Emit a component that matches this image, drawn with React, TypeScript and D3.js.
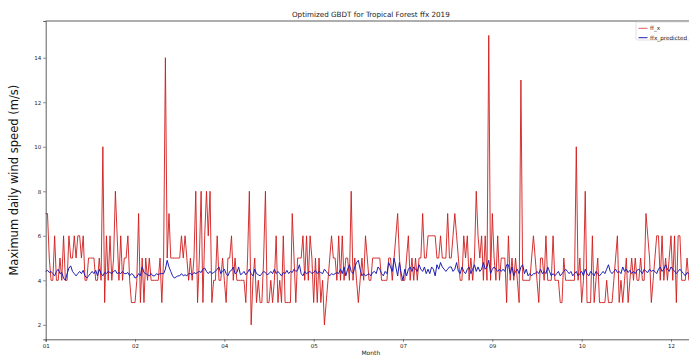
import React, { useEffect, useRef } from "react";
import * as d3 from "d3";

// daily max wind speed, observed (ff_x), Jan 1 .. Dec 31 2019
const observed = [
  7, 7, 5, 4, 4, 6, 4, 4, 5, 4,
  6, 4, 4, 6, 5, 5, 6, 5, 6, 6,
  5, 6, 4, 4, 5, 5, 5, 5, 4, 4,
  5, 4, 10, 3, 6, 4, 6, 4, 5, 8,
  6, 4, 6, 4, 5, 5, 6, 4, 3, 3,
  3, 4, 7, 3, 5, 3, 5, 4, 5, 4,
  4, 4, 4, 4, 5, 3, 5, 14, 5, 7,
  5, 5, 5, 5, 5, 5, 6, 5, 6, 5,
  4, 5, 4, 5, 8, 3, 5, 8, 3, 6,
  8, 6, 8, 3, 4, 4, 6, 4, 4, 5,
  4, 3, 5, 5, 6, 4, 5, 4, 4, 4,
  4, 4, 3, 5, 8, 2, 4, 5, 3, 4,
  3, 3, 5, 8, 3, 3, 4, 3, 4, 6,
  3, 4, 3, 6, 3, 3, 3, 3, 7, 5,
  3, 5, 5, 5, 6, 4, 6, 4, 6, 5,
  3, 5, 3, 5, 3, 4, 2, 3, 4, 5,
  6, 5, 5, 4, 6, 4, 6, 4, 5, 5,
  4, 8, 4, 5, 4, 3, 4, 5, 4, 6,
  5, 4, 4, 5, 5, 5, 5, 5, 4, 4,
  4, 4, 5, 5, 4, 5, 6, 7, 5, 4,
  4, 4, 5, 6, 4, 5, 4, 5, 4, 5,
  5, 7, 5, 5, 6, 6, 6, 6, 6, 5,
  5, 6, 5, 5, 5, 7, 5, 5, 6, 7,
  6, 5, 4, 4, 6, 5, 6, 4, 5, 4,
  5, 8, 6, 5, 6, 4, 6, 4, 15, 4,
  7, 5, 4, 6, 4, 5, 5, 5, 3, 6,
  4, 5, 4, 5, 4, 3, 13, 4, 4, 4,
  4, 4, 5, 6, 5, 4, 3, 5, 5, 4,
  6, 4, 4, 4, 6, 4, 4, 4, 3, 3,
  5, 4, 4, 4, 4, 4, 4, 10, 4, 5,
  3, 4, 8, 3, 3, 3, 6, 3, 4, 5,
  3, 3, 3, 3, 4, 3, 3, 3, 4, 5,
  6, 3, 4, 3, 4, 5, 3, 4, 5, 4,
  5, 4, 4, 5, 4, 4, 7, 6, 5, 3,
  4, 5, 6, 6, 4, 6, 4, 5, 4, 5,
  6, 4, 6, 3, 6, 6, 4, 4, 4, 5,
  4, 4, 4, 4, 4,
];

// model output (ffx_predicted)
const predicted = [
  4.4, 4.45, 4.35, 4.4, 4.3, 4.2, 4.4, 4.5, 4.3, 4.35,
  4.1, 4.0, 4.3, 4.55, 4.65, 4.4, 4.3, 4.2, 4.3, 4.4,
  4.3, 4.45, 4.2, 4.1, 4.2, 4.3, 4.4, 4.3, 4.45, 4.2,
  4.5, 4.3, 4.2, 4.35, 4.3, 4.4, 4.35, 4.3, 4.4, 4.45,
  4.3, 4.35, 4.3, 4.4, 4.3, 4.3, 4.35, 4.2, 4.3, 4.25,
  4.1, 4.15, 4.3, 4.2, 4.6, 4.35, 4.3, 4.25, 4.2, 4.3,
  4.2, 4.2, 4.3, 4.25, 4.3, 4.3, 4.3, 4.5, 4.9, 4.6,
  4.4, 4.2, 4.1, 4.15, 4.2, 4.2, 4.3, 4.2, 4.25, 4.2,
  4.3, 4.3, 4.25, 4.35, 4.3, 4.35, 4.4, 4.35, 4.5, 4.55,
  4.4, 4.3, 4.4, 4.3, 4.35, 4.4, 4.5, 4.6, 4.3, 4.4,
  4.5, 4.3, 4.2, 4.4, 4.45, 4.6, 4.3, 4.35, 4.6, 4.25,
  4.3, 4.4, 4.25, 4.35, 4.5, 4.3, 4.2, 4.5, 4.3, 4.25,
  4.2, 4.3, 4.4, 4.35, 4.25, 4.3, 4.4, 4.3, 4.5, 4.3,
  4.4, 4.3, 4.2, 4.35, 4.3, 4.45, 4.3, 4.4, 4.35, 4.5,
  4.4, 4.45, 4.7, 4.3, 4.2, 4.4, 4.3, 4.35, 4.4, 4.3,
  4.35, 4.45, 4.3, 4.4, 4.35, 4.3, 4.5, 4.4, 4.3, 4.2,
  4.3, 4.25, 4.3, 4.35, 4.3, 4.5, 4.3, 4.6, 4.2, 4.5,
  4.7, 4.4, 4.3, 4.6, 4.8, 4.9, 4.5, 4.2, 4.3, 4.2,
  4.25, 4.3, 4.2, 4.35, 4.4, 4.3, 4.6, 4.5, 4.3, 4.2,
  4.4, 4.3, 4.8, 4.6, 4.4, 5.0, 4.6, 4.2, 4.8, 4.3,
  4.0, 4.5, 4.2, 4.5, 4.6, 4.4, 4.6, 4.5, 4.4, 4.7,
  4.5, 4.4, 4.6, 4.3, 4.5, 4.3, 4.6, 4.5, 4.2, 4.7,
  4.5, 4.8, 4.6, 4.5, 4.4, 4.5, 4.6, 4.6, 4.4, 4.5,
  4.8, 4.4, 4.3, 4.6, 4.4, 4.3, 4.5, 4.6, 4.3, 4.5,
  4.7, 4.4, 4.6, 4.4, 4.5, 4.8, 4.5, 4.6, 4.9, 4.3,
  4.5, 4.6, 4.5, 4.4, 4.5, 4.4, 4.5, 4.4, 4.7, 4.7,
  4.3, 4.6, 4.2, 4.4, 4.5, 4.3, 4.6, 4.7, 4.3, 4.5,
  4.2, 4.3, 4.2, 4.3, 4.3, 4.4, 4.3, 4.5, 4.3, 4.4,
  4.3, 4.6, 4.4, 4.2, 4.3, 4.2, 4.3, 4.4, 4.2, 4.3,
  4.4, 4.5, 4.4, 4.3, 4.4, 4.2, 4.3, 4.4, 4.2, 4.3,
  4.4, 4.2, 4.5, 4.3, 4.2, 4.4, 4.3, 4.2, 4.4, 4.3,
  4.2, 4.3, 4.4, 4.3, 4.5, 4.7, 4.4, 4.3, 4.4, 4.5,
  4.35, 4.4, 4.3, 4.6, 4.4, 4.5, 4.35, 4.45, 4.3, 4.4,
  4.3, 4.45, 4.5, 4.4, 4.3, 4.5, 4.4, 4.35, 4.5, 4.4,
  4.45, 4.4, 4.3, 4.5, 4.6, 4.4, 4.5, 4.7, 4.5, 4.4,
  4.6, 4.5, 4.4, 4.3, 4.4, 4.5, 4.4, 4.3, 4.2, 4.35,
  4.3, 4.2, 4.3, 4.4, 4.3,
];

const yTicks = [2, 4, 6, 8, 10, 12, 14];
const xTickStepDays = 50;
const seriesNames = ["ff_x", "ffx_predicted"];

const App = () => {
  const chartRef = useRef<HTMLDivElement>(null);

  useEffect(() => {
    d3.select(chartRef.current).select("svg").remove();

    const W = 689;
    const H = 360;
    const left = 45.7;
    const right = 696;
    const top = 21;
    const bottom = 339.3;
    const font = "DejaVu Sans, sans-serif";

    const start = new Date(2019, 0, 1);
    const dates = observed.map((_, i) => d3.timeDay.offset(start, i));

    const x = d3
      .scaleTime()
      .domain([start, dates[dates.length - 1]])
      .range([left, right]);
    const y = d3.scaleLinear().domain([1.35, 15.65]).range([bottom, top]);

    const svg = d3
      .select(chartRef.current)
      .append("svg")
      .attr("width", W)
      .attr("height", H)
      .style("font-family", font)
      .style("background", "#fff");

    // title
    svg
      .append("text")
      .attr("x", (left + right) / 2)
      .attr("y", 16.5)
      .attr("text-anchor", "middle")
      .style("font-size", "7.2px")
      .style("fill", "#222")
      .text("Optimized GBDT for Tropical Forest ffx 2019");

    // lines
    const line = (vals: number[]) =>
      d3
        .line<number>()
        .x((_, i) => x(dates[i]))
        .y((d) => y(d))(vals);

    svg
      .append("path")
      .attr("d", line(observed))
      .attr("fill", "none")
      .attr("stroke", "#d01c1c")
      .attr("stroke-opacity", 0.9)
      .attr("stroke-width", 1);

    svg
      .append("path")
      .attr("d", line(predicted))
      .attr("fill", "none")
      .attr("stroke", "#1f1fb4")
      .attr("stroke-width", 1);

    // axes
    const tickDates = d3
      .range(0, 366, xTickStepDays)
      .map((n) => d3.timeDay.offset(start, n));

    const gx = svg
      .append("g")
      .attr("transform", `translate(0,${bottom})`)
      .call(
        d3
          .axisBottom(x)
          .tickValues(tickDates)
          .tickFormat((d) => d3.timeFormat("%m")(d as Date))
          .tickSize(2.5)
          .tickPadding(2)
      );
    gx.select(".domain").attr("stroke", "#333").attr("stroke-width", 0.8);
    gx.selectAll("text").style("font-size", "5.5px").style("fill", "#222").attr("font-family", font);
    gx.selectAll("line").attr("stroke", "#333").attr("stroke-width", 0.6);

    const gy = svg
      .append("g")
      .attr("transform", `translate(${left},0)`)
      .call(d3.axisLeft(y).tickValues(yTicks).tickSize(2.5).tickPadding(2));
    gy.select(".domain").attr("stroke", "#333").attr("stroke-width", 0.8);
    gy.selectAll("text").style("font-size", "5.5px").style("fill", "#222").attr("font-family", font);
    gy.selectAll("line").attr("stroke", "#333").attr("stroke-width", 0.6);

    // top spine
    svg
      .append("line")
      .attr("x1", left)
      .attr("x2", right)
      .attr("y1", top)
      .attr("y2", top)
      .attr("stroke", "#333")
      .attr("stroke-width", 0.8);

    // axis labels
    svg
      .append("text")
      .attr("x", (left + right) / 2)
      .attr("y", 355)
      .attr("text-anchor", "middle")
      .style("font-size", "6px")
      .style("fill", "#222")
      .text("Month");

    svg
      .append("text")
      .attr("transform", `translate(18,${(top + bottom) / 2}) rotate(-90)`)
      .attr("text-anchor", "middle")
      .style("font-size", "11.5px")
      .style("fill", "#111")
      .text("Maximum daily wind speed (m/s)");

    // legend
    const lg = svg.append("g").attr("transform", "translate(636,22)");
    lg.append("rect")
      .attr("width", 66)
      .attr("height", 18)
      .attr("rx", 1.5)
      .attr("fill", "#fff")
      .attr("fill-opacity", 0.85)
      .attr("stroke", "#ccc")
      .attr("stroke-width", 0.6);
    const colors = ["#d01c1c", "#1f1fb4"];
    seriesNames.forEach((name, i) => {
      const yy = 6.3 + i * 9.4;
      lg.append("line")
        .attr("x1", 2.5)
        .attr("x2", 11.5)
        .attr("y1", yy)
        .attr("y2", yy)
        .attr("stroke", colors[i])
        .attr("stroke-opacity", i === 0 ? 0.7 : 1)
        .attr("stroke-width", 1);
      lg.append("text")
        .attr("x", 14)
        .attr("y", yy + 2)
        .style("font-size", "5.7px")
        .style("fill", "#222")
        .text(name);
    });
  }, []);

  return (
    <div
      ref={chartRef}
      style={{ position: "absolute", left: 0, top: 0, width: 689, height: 360, overflow: "hidden", background: "#fff" }}
    ></div>
  );
};

export default App;
